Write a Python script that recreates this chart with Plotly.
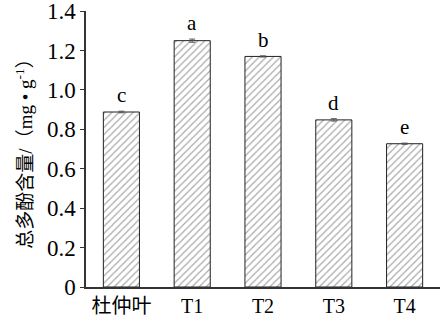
import plotly.graph_objects as go

categories = ["杜仲叶", "T1", "T2", "T3", "T4"]
values = [0.888, 1.250, 1.170, 0.848, 0.727]
errors = [0.004, 0.008, 0.003, 0.006, 0.003]
letters = ["c", "a", "b", "d", "e"]
y_ticks = [0, 0.2, 0.4, 0.6, 0.8, 1.0, 1.2, 1.4]
y_tick_text = ["0", "0.2", "0.4", "0.6", "0.8", "1.0", "1.2", "1.4"]

FONT = "Liberation Serif, Times New Roman, Noto Sans CJK SC, serif"

fig = go.Figure()
fig.add_trace(go.Bar(
    x=categories, y=values, width=0.51,
    marker=dict(color="white",
                line=dict(color="#222222", width=1),
                pattern=dict(shape="/", fgcolor="#555555", bgcolor="white",
                             size=5, solidity=0.25)),
    error_y=dict(type="data", array=errors, color="#555555", thickness=1, width=3),
))

for c, v, e, l in zip(categories, values, errors, letters):
    fig.add_annotation(x=c, y=v + e, text=l, showarrow=False, yanchor="bottom",
                       yshift=2, font=dict(family=FONT, size=21, color="black"))

fig.update_layout(
    width=440, height=327,
    margin=dict(l=86, r=0, t=11, b=40),
    plot_bgcolor="white", paper_bgcolor="white",
    showlegend=False, bargap=0.5,
    font=dict(family=FONT, color="black"),
)
fig.update_xaxes(showline=True, linecolor="#333333", linewidth=1.5, ticks="",
                 showgrid=False, tickfont=dict(family=FONT, size=20, color="black"),
                 range=[-0.5, 4.5])
fig.update_yaxes(range=[0, 1.4005], tickvals=y_ticks, ticktext=y_tick_text,
                 showline=True, linecolor="#333333", linewidth=1.5,
                 ticks="outside", ticklen=4, tickcolor="#333333",
                 showgrid=False, zeroline=False, ticklabeloverflow="allow",
                 tickfont=dict(family=FONT, size=23, color="black"),
                 title=dict(text="总多酚含量/（mg • g<sup>-1</sup>）",
                            font=dict(family=FONT, size=19, color="black"),
                            standoff=9))

fig.write_html("out.html")
